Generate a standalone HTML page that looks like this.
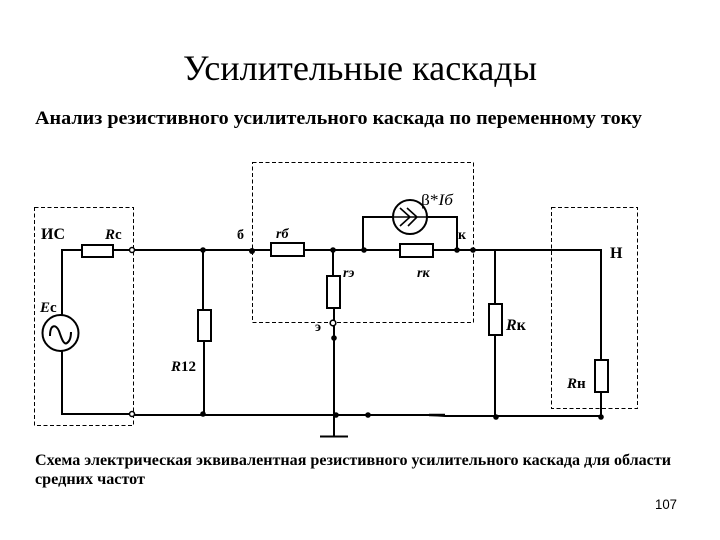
<!DOCTYPE html>
<html><head><meta charset="utf-8"><style>
html,body{margin:0;padding:0;background:#fff}
svg{display:block}
text{font-family:"Liberation Serif","Noto Serif CJK SC",serif;fill:#000}
.b{font-weight:bold}
.i{font-style:italic;font-weight:bold}
</style></head><body>
<svg width="720" height="540" viewBox="0 0 720 540" xmlns="http://www.w3.org/2000/svg">
<rect width="720" height="540" fill="#fff"/>
<text x="183" y="80" font-size="36" textLength="354" lengthAdjust="spacingAndGlyphs">Усилительные каскады</text>
<text x="35" y="124" font-size="19" class="b" textLength="607" lengthAdjust="spacingAndGlyphs">Анализ резистивного усилительного каскада по переменному току</text>
<text x="35" y="465" font-size="16" class="b" textLength="636" lengthAdjust="spacingAndGlyphs">Схема электрическая эквивалентная резистивного усилительного каскада для области</text>
<text x="35" y="484" font-size="16" class="b" textLength="110" lengthAdjust="spacingAndGlyphs">средних частот</text>
<text x="655" y="509" font-size="14" style="font-family:'Liberation Sans',sans-serif" textLength="22" lengthAdjust="spacingAndGlyphs">107</text>

<g fill="none" stroke="#000" stroke-width="1" stroke-dasharray="4 2.500">
<rect x="34.500" y="207.500" width="99" height="218"/>
<rect x="252.500" y="162.500" width="221" height="160"/>
<rect x="551.500" y="207.500" width="86" height="201"/>
</g>

<g fill="none" stroke="#000" stroke-width="2">
<path d="M113 250H601V360M82 250H62V315M62 351V414H132"/>
<path d="M203 250V310M204 341V415"/>
<path d="M333 250V276M334 308V436"/>
<path d="M363 250V217H393M427 217H457V250"/>
<path d="M495 250V304M495 335V416"/>
<path d="M601 392V416"/>
<path d="M132 415H430L445 416H601"/>
<path d="M429 415H445" stroke-width="2.500"/>
<path d="M320 436.500H348"/>
<rect x="82" y="245" width="31" height="12" fill="#fff"/>
<rect x="198" y="310" width="13" height="31" fill="#fff"/>
<rect x="271" y="243" width="33" height="13" fill="#fff"/>
<rect x="400" y="244" width="33" height="13" fill="#fff"/>
<rect x="327" y="276" width="13" height="32" fill="#fff"/>
<rect x="489" y="304" width="13" height="31" fill="#fff"/>
<rect x="595" y="360" width="13" height="32" fill="#fff"/>
<circle cx="60.500" cy="333" r="18" fill="#fff"/>
<path d="M50 336C50 324 56 324 59 331C62 340 64 345 67 343C70 341 71 337 71 332"/>
<circle cx="410" cy="217" r="17" fill="#fff"/>
<path d="M393 217H427M400 208L410 217L400 226M407 208L417 217L408 226" stroke-width="1.600"/>
</g>

<g fill="#000">
<circle cx="203" cy="250" r="2.800"/>
<circle cx="252" cy="251" r="3"/>
<circle cx="333" cy="250" r="2.800"/>
<circle cx="364" cy="250" r="2.800"/>
<circle cx="457" cy="250" r="2.800"/>
<circle cx="473" cy="250" r="2.800"/>
<circle cx="334" cy="338" r="2.800"/>
<circle cx="203" cy="414" r="2.800"/>
<circle cx="336" cy="415" r="2.800"/>
<circle cx="368" cy="415" r="2.800"/>
<circle cx="496" cy="417" r="2.800"/>
<circle cx="601" cy="417" r="2.800"/>
<circle cx="132" cy="250" r="2.500" fill="#fff" stroke="#000" stroke-width="1.500"/>
<circle cx="132" cy="414" r="2.500" fill="#fff" stroke="#000" stroke-width="1.500"/>
<circle cx="333" cy="323" r="2.800" fill="#fff" stroke="#000" stroke-width="1.600"/>
</g>

<text x="41" y="239" font-size="16" class="b">ИС</text>
<text x="105" y="239" font-size="15" class="i">R<tspan style="font-style:normal">с</tspan></text>
<text x="237" y="239" font-size="14" class="b">б</text>
<text x="276" y="238" font-size="14" class="i">r<tspan>б</tspan></text>
<text x="343" y="277" font-size="14" class="i">r<tspan>э</tspan></text>
<text x="417" y="277" font-size="14" class="i">r<tspan>к</tspan></text>
<text x="458" y="239" font-size="14" class="b">к</text>
<text x="315" y="331" font-size="14" class="b">э</text>
<text x="421" y="205" font-size="16" fill="#333" textLength="32" lengthAdjust="spacingAndGlyphs">β*<tspan font-style="italic">Iб</tspan></text>
<text x="610" y="258" font-size="16" class="b">Н</text>
<text x="40" y="312" font-size="15" class="i">E<tspan style="font-style:normal">с</tspan></text>
<text x="171" y="371" font-size="15" class="i">R<tspan style="font-style:normal">12</tspan></text>
<text x="506" y="330" font-size="16" class="i">R<tspan style="font-style:normal">к</tspan></text>
<text x="567" y="388" font-size="15" class="i">R<tspan style="font-style:normal">н</tspan></text>
</svg>
</body></html>
